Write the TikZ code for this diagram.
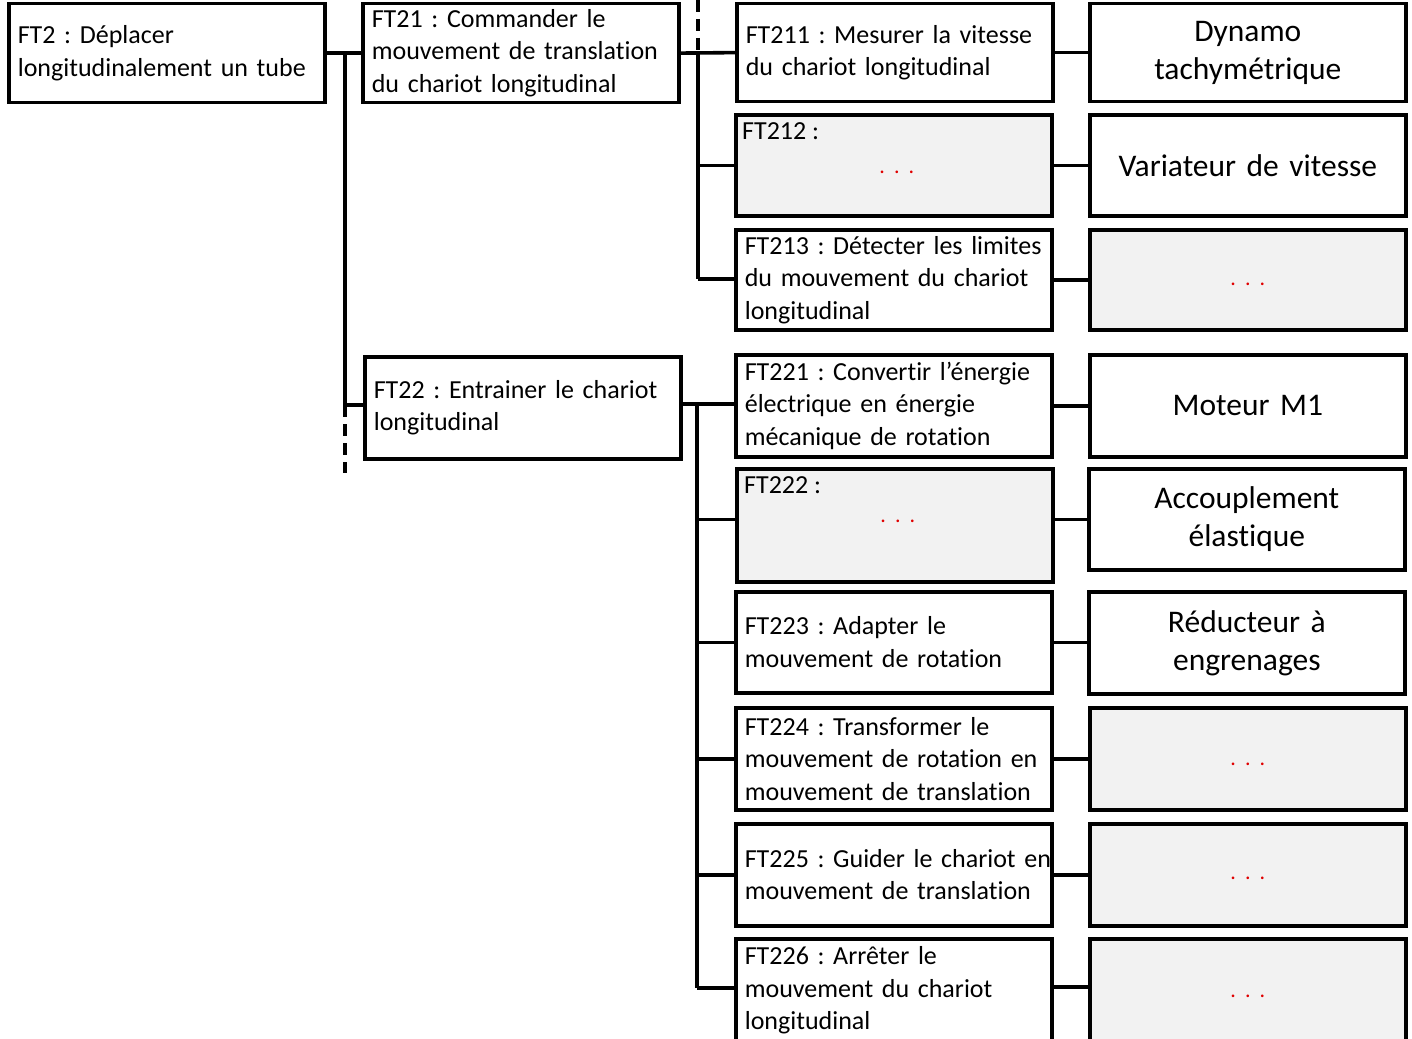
\documentclass[tikz,border=0pt]{standalone}
\usepackage{fontspec}
\setmainfont{Carlito}[Ligatures=CommonOff]
\usetikzlibrary{calc}
\definecolor{boxgray}{HTML}{F2F2F2}
\definecolor{dotred}{HTML}{E00000}
\frenchspacing
\begin{document}
\begin{tikzpicture}[x=1pt,y=-1pt,
  fbox/.style={draw=black, line width=3.6pt, anchor=north west, minimum width=316pt,
    text width=298pt, inner xsep=9pt, inner ysep=0pt, align=left,
    font=\fontsize{26}{32.5}\selectfont},
  cbox/.style={draw=black, line width=3.6pt, anchor=north west, minimum width=316pt,
    text width=298pt, inner xsep=9pt, inner ysep=0pt, align=center,
    font=\fontsize{31.5}{38}\selectfont},
  grayfill/.style={fill=boxgray},
  link/.style={line width=3.6pt},
  buslink/.style={line width=4pt},
  dashlink/.style={line width=4pt, dash pattern=on 12pt off 7pt},
  dots/.style={text=dotred, font=\fontsize{22}{22}\selectfont, inner sep=0pt}
]
\useasboundingbox (0,0) rectangle (1412,1038);
\clip (0,0) rectangle (1412,1038);
\fill[white] (0,0) rectangle (1412,1038);

% level 1 and 2
\node[fbox, minimum height=99pt] (ft2) at (7,1.8) {FT2 : Déplacer\\longitudinalement un tube};
\node[fbox, minimum height=99pt] (ft21) at (361,1.8) {FT21 : Commander le\\mouvement de translation\\du chariot longitudinal};
\node[fbox, minimum height=102pt] (ft22) at (363,355) {FT22 : Entrainer le chariot\\longitudinal};

% level 3
\node[fbox, minimum height=98pt] (ft211) at (735,1.8) {FT211 : Mesurer la vitesse\\du chariot longitudinal};
\node[fbox, grayfill, minimum height=101pt] (ft212) at (734,113) {};
\node[fbox, minimum height=100pt] (ft213) at (734,228) {\mbox{FT213 : Détecter les limites}\\du mouvement du chariot\\longitudinal};
\node[fbox, minimum height=102pt] (ft221) at (734,353) {FT221 : Convertir l’énergie\\électrique en énergie\\mécanique de rotation};
\node[fbox, grayfill, minimum height=113pt] (ft222) at (735,467) {};
\node[fbox, minimum height=101pt] (ft223) at (734,590) {FT223 : Adapter le\\mouvement de rotation};
\node[fbox, minimum height=102pt] (ft224) at (734,706) {FT224 : Transformer le\\\mbox{mouvement de rotation en}\\\mbox{mouvement de translation}};
\node[fbox, minimum height=102pt] (ft225) at (734,822) {\mbox{FT225 : Guider le chariot en}\\mouvement de translation};
\node[fbox, minimum height=103pt] (ft226) at (734,937) {FT226 : Arrêter le\\mouvement du chariot\\longitudinal};

% texts inside the gray function boxes
\node[anchor=north west, inner sep=0pt, font=\fontsize{26}{32.5}\selectfont] (ft212t) at ($(ft212.north west)+(8,9)$) {FT212 :};
\node[dots] (ft212d) at ($(ft212.center)+(3,7)$) {.\hspace{9pt}.\hspace{9pt}.};
\node[anchor=north west, inner sep=0pt, font=\fontsize{26}{32.5}\selectfont] (ft222t) at ($(ft222.north west)+(9,9)$) {FT222 :};
\node[dots] (ft222d) at ($(ft222.center)+(3,-4)$) {.\hspace{9pt}.\hspace{9pt}.};

% components
\node[cbox, minimum height=98pt] (c1) at (1088,1.8) {Dynamo\\tachymétrique};
\node[cbox, minimum height=101pt] (c2) at (1088,113) {Variateur de vitesse};
\node[cbox, grayfill, minimum height=100pt] (c3) at (1088,228) {};
\node[cbox, minimum height=102pt] (c4) at (1088,353) {Moteur M1};
\node[cbox, minimum height=101pt] (c5) at (1087,467) {Accouplement\\élastique};
\node[cbox, minimum height=102pt] (c6) at (1087,590) {Réducteur à\\engrenages};
\node[cbox, grayfill, minimum height=102pt] (c7) at (1088,706) {};
\node[cbox, grayfill, minimum height=102pt] (c8) at (1088,822) {};
\node[cbox, grayfill, minimum height=103pt] (c9) at (1088,937) {};
\node[dots] (c3d) at ($(c3.center)+(0,5)$) {.\hspace{9pt}.\hspace{9pt}.};
\node[dots] (c7d) at ($(c7.center)+(0,6)$) {.\hspace{9pt}.\hspace{9pt}.};
\node[dots] (c8d) at ($(c8.center)+(0,4)$) {.\hspace{9pt}.\hspace{9pt}.};
\node[dots] (c9d) at ($(c9.center)+(0,6)$) {.\hspace{9pt}.\hspace{9pt}.};

% bus coordinates
\coordinate (b1top) at (345,53);
\coordinate (b1mid) at (345,405);
\coordinate (b1end) at (345,473);
\coordinate (b2top) at (698,0);
\coordinate (b2mid) at (698,52);
\coordinate (b2end) at (698,279);
\coordinate (b3top) at (697,404);
\coordinate (b3end) at (697,988);

% level 1 -> 2
\draw[link] (ft2.east) -- (ft21.west);
\draw[buslink] (b1top) -- (b1mid);
\draw[dashlink] (b1mid) -- (b1end);
\draw[link] (b1mid) -- (b1mid -| ft22.west);

% FT21 -> children
\draw[link] (ft21.east) -- (ft211.west);
\draw[dashlink] (b2top) -- (b2mid);
\draw[buslink] (b2mid) -- (b2end);
\draw[link] (ft212.west -| b2mid) -- (ft212.west);
\draw[link] (b2end) -- (b2end -| ft213.west);

% FT22 -> children
\draw[link] (ft22.east |- b3top) -- (ft221.west |- b3top);
\draw[buslink] (b3top) -- (b3end);
\draw[link] (b3top |- c5.west) -- (ft222.west |- c5.west);
\draw[link] (b3top |- ft223.west) -- (ft223.west);
\draw[link] (b3top |- ft224.west) -- (ft224.west);
\draw[link] (b3top |- ft225.west) -- (ft225.west);
\draw[link] (b3end) -- (b3end -| ft226.west);

% functions -> components
\draw[link] (ft211.east) -- (c1.west);
\draw[link] (ft212.east |- c2.west) -- (c2.west);
\draw[link] (ft213.east) -- (c3.west);
\draw[link] (ft221.east) -- (c4.west);
\draw[link] (ft222.east |- c5.west) -- (c5.west);
\draw[link] (ft223.east) -- (c6.west |- ft223.east);
\draw[link] (ft224.east) -- (c7.west);
\draw[link] (ft225.east) -- (c8.west);
\draw[link] (ft226.east |- 0,987) -- (c9.west |- 0,987);
\end{tikzpicture}
\end{document}
